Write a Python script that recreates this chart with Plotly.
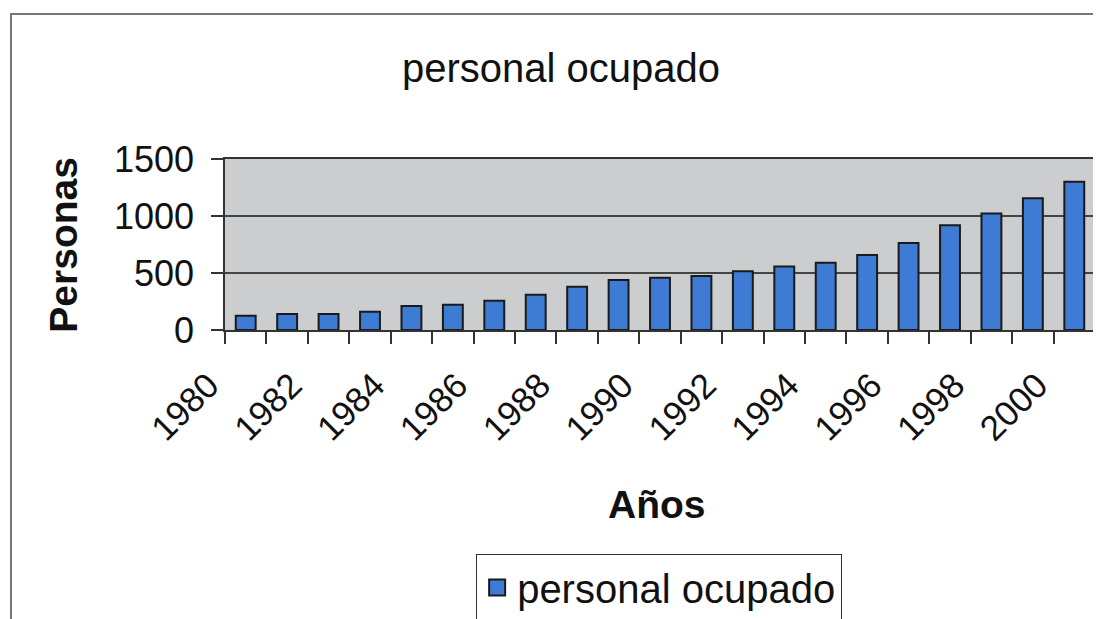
import plotly.graph_objects as go

# data
years = [1980, 1981, 1982, 1983, 1984, 1985, 1986, 1987, 1988, 1989, 1990,
         1991, 1992, 1993, 1994, 1995, 1996, 1997, 1998, 1999, 2000]
personal = [125, 140, 140, 160, 210, 222, 257, 310, 380, 438, 459,
            474, 515, 556, 591, 658, 763, 918, 1023, 1155, 1301]
year_labels = [1980, 1982, 1984, 1986, 1988, 1990, 1992, 1994, 1996, 1998, 2000]
y_ticks = [0, 500, 1000, 1500]

series_name = "personal ocupado"
bar_fill = "#3d7bd4"
edge = "#1a1a1a"
font = "Liberation Sans, Arial, sans-serif"

fig = go.Figure()

fig.add_trace(go.Bar(
    x=years, y=personal, name=series_name, showlegend=False,
    legendgroup="p",
    marker=dict(color=bar_fill, line=dict(color=edge, width=2)),
))
# legend swatch (bigger square than plotly's default bar swatch)
fig.add_trace(go.Scatter(
    x=[None], y=[None], mode="markers", name=series_name, legendgroup="p",
    marker=dict(symbol="square", size=24, color=bar_fill,
                line=dict(color=edge, width=2)),
))

# the page body adds an 8px offset, so margins are pulled in by 8px
fig.update_layout(
    width=1101, height=619,
    margin=dict(l=217, r=14, t=151, b=297, autoexpand=False),
    paper_bgcolor="white",
    plot_bgcolor="#cbcdcf",
    bargap=0.52,
    font=dict(family=font, color="#111", size=34),
    showlegend=True,
    legend=dict(
        x=0.499, xanchor="center", y=-1.31, yanchor="top",
        bordercolor="#333", borderwidth=1, bgcolor="white",
        font=dict(size=40), itemsizing="trace",
    ),
)

fig.update_xaxes(
    range=[1979.5, 2000.5], automargin=False,
    tickmode="array", tickvals=year_labels, ticktext=[str(y) for y in year_labels],
    tickangle=-45, ticks="", tickfont=dict(size=35),
    ticklabelshift=-37, ticklabelstandoff=19,
    showgrid=False, zeroline=False,
    showline=True, linecolor="#333", linewidth=1.5,
    minor=dict(tickmode="linear", tick0=1979.5, dtick=1, ticks="outside",
               ticklen=12, tickcolor="#333", tickwidth=1.5, showgrid=False),
    mirror=True,
)
fig.update_yaxes(
    range=[0, 1500], tickvals=y_ticks, automargin=False,
    ticks="outside", ticklen=12, tickcolor="#333", tickwidth=1.5,
    tickfont=dict(size=36), ticklabelstandoff=10,
    showgrid=True, gridcolor="#444", gridwidth=1.5,
    zeroline=False, showline=True, linecolor="#333", linewidth=1.5, mirror=True,
)

# titles
fig.add_annotation(text=series_name, xref="paper", yref="paper",
                   x=0.386, y=1.532, xanchor="center", yanchor="middle",
                   showarrow=False, font=dict(size=40))
fig.add_annotation(text="<b>Personas</b>", xref="paper", yref="paper",
                   x=-0.186, y=0.5, xanchor="center", yanchor="middle",
                   textangle=-90, showarrow=False, font=dict(size=39))
fig.add_annotation(text="<b>Años</b>", xref="paper", yref="paper",
                   x=0.497, y=-1.023, xanchor="center", yanchor="middle",
                   showarrow=False, font=dict(size=39))

# outer chart frame (continues past the right and bottom edges of the scan)
fig.add_shape(type="path", xref="paper", yref="paper",
              path="M -0.246,-3 L -0.246,1.848 L 1.2,1.848",
              line=dict(color="#777", width=2))

fig.write_html("out.html")
